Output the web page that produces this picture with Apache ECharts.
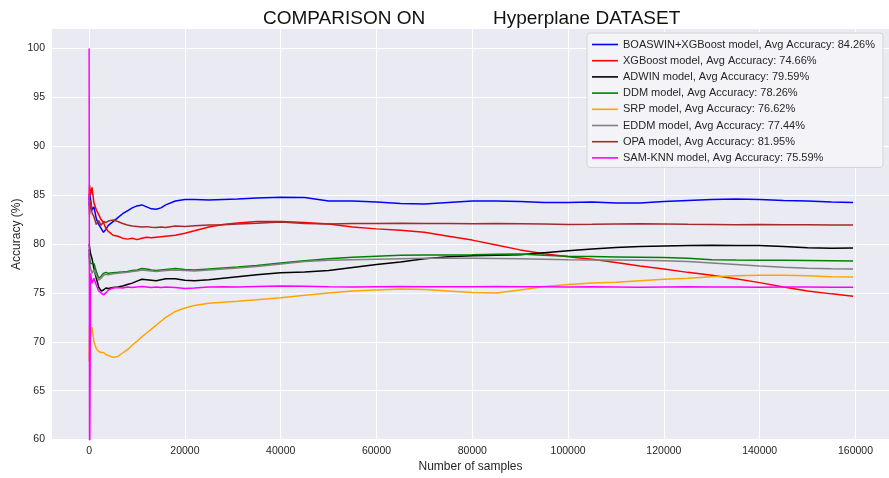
<!DOCTYPE html>
<html>
<head>
<meta charset="utf-8">
<title>Hyperplane accuracy comparison</title>
<script src="https://cdn.jsdelivr.net/npm/echarts@6/dist/echarts.min.js"></script>
<style>
  html, body { margin: 0; padding: 0; background: #ffffff; }
  #chart { width: 889px; height: 478px; }
</style>
</head>
<body>
<div id="chart"></div>
<script>
// Sample positions (number of samples seen) shared by every curve
const samples = [0, 100, 300, 600, 1000, 1500, 2000, 2500, 3000, 3500, 4000, 5000, 6000, 7000, 8000, 9000,
  10000, 11000, 12000, 13000, 14000, 15000, 16000, 18000, 20000, 22000, 25000, 28000, 31000, 35000,
  40000, 45000, 50000, 55000, 60000, 65000, 70000, 75000, 80000, 85000, 90000, 95000, 100000,
  105000, 110000, 115000, 120000, 125000, 130000, 135000, 140000, 145000, 150000, 155000, 159500];

// Running accuracy (%) of each model
const boaswinXgb = [84.0, 85.2, 84.5, 83.5, 83.8, 82.6, 82.0, 81.6, 81.2, 81.5, 81.9, 82.3, 82.7, 83.1, 83.4, 83.7,
  83.9, 84.0, 83.8, 83.6, 83.55, 83.7, 84.0, 84.4, 84.55, 84.55, 84.5, 84.55, 84.6, 84.7,
  84.78, 84.75, 84.4, 84.4, 84.3, 84.15, 84.1, 84.25, 84.4, 84.4, 84.35, 84.25, 84.25,
  84.3, 84.2, 84.2, 84.35, 84.45, 84.55, 84.6, 84.55, 84.45, 84.4, 84.3, 84.26];
const xgboost = [84.5, 86.0, 85.0, 85.8, 84.2, 83.5, 83.0, 82.5, 82.2, 81.6, 81.3, 80.9, 80.8, 80.6, 80.5, 80.6,
  80.45, 80.6, 80.7, 80.65, 80.7, 80.75, 80.8, 80.9, 81.1, 81.35, 81.75, 82.0, 82.15, 82.3,
  82.3, 82.2, 82.05, 81.75, 81.55, 81.4, 81.2, 80.8, 80.4, 79.9, 79.4, 79.0, 78.7,
  78.45, 78.1, 77.75, 77.45, 77.1, 76.8, 76.45, 76.05, 75.6, 75.2, 74.9, 74.66];
const adwin = [80.0, 79.8, 79.0, 78.5, 77.5, 76.5, 75.6, 75.2, 75.3, 75.5, 75.45, 75.55, 75.6, 75.7, 75.85, 76.0,
  76.2, 76.4, 76.35, 76.3, 76.25, 76.35, 76.45, 76.45, 76.3, 76.25, 76.35, 76.5, 76.65, 76.85,
  77.05, 77.15, 77.3, 77.6, 77.9, 78.15, 78.5, 78.7, 78.8, 78.85, 78.9, 79.1, 79.3,
  79.5, 79.65, 79.75, 79.8, 79.85, 79.87, 79.85, 79.85, 79.75, 79.62, 79.58, 79.59];
const ddm = [79.5, 78.5, 78.0, 77.8, 78.0, 77.2, 76.5, 76.7, 77.0, 77.1, 77.0, 77.07, 77.1, 77.15, 77.2, 77.3,
  77.35, 77.5, 77.45, 77.35, 77.3, 77.35, 77.4, 77.5, 77.4, 77.35, 77.45, 77.55, 77.65, 77.8,
  78.05, 78.3, 78.5, 78.65, 78.75, 78.85, 78.87, 78.88, 78.9, 78.95, 78.98, 78.85, 78.75,
  78.72, 78.68, 78.65, 78.63, 78.55, 78.4, 78.36, 78.35, 78.34, 78.32, 78.3, 78.26];
const srp = [68.0, 71.8, 70.5, 71.5, 70.0, 69.3, 69.0, 68.9, 68.9, 68.7, 68.6, 68.4, 68.5, 68.85, 69.2, 69.65,
  70.05, 70.5, 70.9, 71.3, 71.7, 72.1, 72.5, 73.1, 73.45, 73.7, 73.95, 74.05, 74.15, 74.3,
  74.5, 74.75, 75.0, 75.2, 75.3, 75.4, 75.35, 75.2, 75.05, 75.0, 75.3, 75.65, 75.85,
  76.0, 76.1, 76.25, 76.4, 76.5, 76.65, 76.75, 76.8, 76.8, 76.75, 76.65, 76.62];
const eddm = [79.0, 78.0, 77.5, 77.0, 77.4, 76.8, 76.3, 76.5, 76.8, 76.9, 76.85, 76.95, 77.0, 77.05, 77.1, 77.2,
  77.25, 77.35, 77.3, 77.25, 77.2, 77.25, 77.3, 77.35, 77.3, 77.25, 77.35, 77.45, 77.55, 77.7,
  77.95, 78.2, 78.35, 78.4, 78.45, 78.5, 78.54, 78.55, 78.55, 78.52, 78.5, 78.45, 78.4,
  78.37, 78.36, 78.35, 78.3, 78.2, 78.05, 77.9, 77.75, 77.62, 77.52, 77.47, 77.44];
const opa = [84.0, 83.0, 84.5, 83.2, 82.8, 82.0, 82.4, 81.9, 82.3, 82.2, 82.35, 82.45, 82.3, 82.1, 81.95, 81.85,
  81.8, 81.75, 81.78, 81.72, 81.7, 81.75, 81.7, 81.84, 81.8, 81.88, 81.94, 81.98, 82.05, 82.12,
  82.25, 82.1, 82.05, 82.1, 82.1, 82.12, 82.1, 82.1, 82.08, 82.1, 82.08, 82.05, 82.0,
  82.02, 82.05, 82.08, 82.05, 82.02, 82.0, 81.98, 82.0, 81.97, 81.96, 81.95, 81.95];
const samKnn = [100.0, 55.0, 77.0, 76.0, 76.5, 75.8, 75.2, 75.0, 74.8, 75.0, 75.3, 75.5, 75.55, 75.5, 75.6, 75.55,
  75.6, 75.65, 75.6, 75.55, 75.6, 75.55, 75.6, 75.55, 75.45, 75.5, 75.6, 75.62, 75.6, 75.65,
  75.7, 75.68, 75.62, 75.6, 75.62, 75.65, 75.63, 75.62, 75.63, 75.65, 75.62, 75.63, 75.6,
  75.62, 75.6, 75.58, 75.6, 75.62, 75.6, 75.6, 75.58, 75.6, 75.6, 75.59, 75.59];

// Model names and the average accuracy quoted in the legend
const modelNames = ['BOASWIN+XGBoost', 'XGBoost', 'ADWIN', 'DDM', 'SRP', 'EDDM', 'OPA', 'SAM-KNN'];
const avgAccuracy = [84.26, 74.66, 79.59, 78.26, 76.62, 77.44, 81.95, 75.59];
const modelValues = [boaswinXgb, xgboost, adwin, ddm, srp, eddm, opa, samKnn];
const modelColors = ['#0000ff', '#ff0000', '#000000', '#008000', '#ffa500', '#808080', '#a52a2a', '#ff00ff'];

// Axis tick labels
const xTicks = [0, 20000, 40000, 60000, 80000, 100000, 120000, 140000, 160000];
const yTicks = [60, 65, 70, 75, 80, 85, 90, 95, 100];

const FONT = 'Liberation Sans, Arial, Helvetica, sans-serif';
const TEXT = '#262626';

const labels = modelNames.map((n, i) => n + ' model, Avg Accuracy: ' + avgAccuracy[i].toFixed(2) + '%');

const series = modelValues.map((vals, i) => ({
  name: labels[i],
  type: 'line',
  data: samples.map((s, j) => [s, vals[j]]),
  showSymbol: false,
  symbol: 'none',
  clip: true,
  lineStyle: { color: modelColors[i], width: 1.5 },
  itemStyle: { color: modelColors[i] },
  emphasis: { disabled: true },
  z: 2 + i
}));

const chart = echarts.init(document.getElementById('chart'), null, { renderer: 'canvas' });
chart.setOption({
  animation: false,
  backgroundColor: '#ffffff',
  title: [
    { text: 'COMPARISON ON', left: 263, top: 9, padding: 0,
      textStyle: { fontFamily: FONT, fontSize: 19, fontWeight: 'normal', color: '#111' } },
    { text: 'Hyperplane DATASET', left: 493, top: 9, padding: 0,
      textStyle: { fontFamily: FONT, fontSize: 19, fontWeight: 'normal', color: '#111' } }
  ],
  grid: {
    left: 52, right: 0, top: 29, bottom: 38.5,
    outerBoundsMode: 'none',
    show: true, backgroundColor: '#eaeaf2', borderWidth: 0, containLabel: false
  },
  legend: {
    orient: 'vertical', left: 587, top: 33,
    padding: [4, 8, 2, 5],
    itemGap: 1.2, itemWidth: 26, itemHeight: 1.6,
    icon: 'rect',
    backgroundColor: '#f4f4f8', borderColor: '#d4d4d8', borderWidth: 1, borderRadius: 3,
    textStyle: { fontFamily: FONT, fontSize: 11, color: TEXT, lineHeight: 15 },
    selectedMode: false,
    data: labels
  },
  xAxis: {
    type: 'value', min: -7750, max: 167000,
    name: 'Number of samples', nameLocation: 'middle', nameGap: 21,
    nameMoveOverlap: false,
    nameTextStyle: { fontFamily: FONT, fontSize: 12, color: TEXT },
    axisLine: { show: false },
    axisTick: { show: false, customValues: xTicks },
    axisLabel: { customValues: xTicks, fontFamily: FONT, fontSize: 10.5, color: TEXT, margin: 6,
      formatter: v => String(v) },
    splitLine: { show: true, lineStyle: { color: '#ffffff', width: 1 } }
  },
  yAxis: {
    type: 'value', min: 60, max: 102,
    name: 'Accuracy (%)', nameLocation: 'middle', nameGap: 29,
    nameMoveOverlap: false,
    nameTextStyle: { fontFamily: FONT, fontSize: 12, color: TEXT },
    axisLine: { show: false },
    axisTick: { show: false, customValues: yTicks },
    axisLabel: { customValues: yTicks, fontFamily: FONT, fontSize: 10.5, color: TEXT, margin: 7,
      formatter: v => String(v) },
    splitLine: { show: true, lineStyle: { color: '#ffffff', width: 1 } }
  },
  series: series
});
</script>
</body>
</html>
